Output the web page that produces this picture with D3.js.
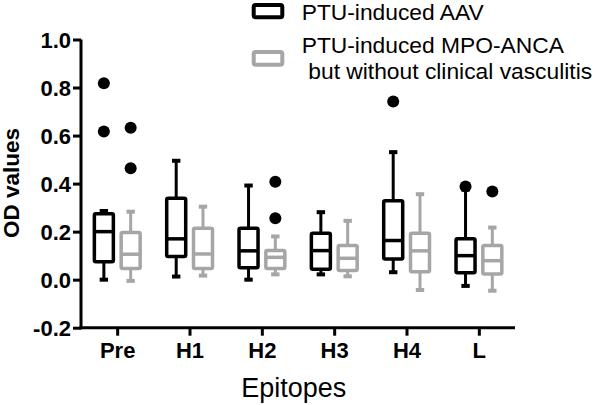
<!DOCTYPE html>
<html><head><meta charset="utf-8">
<script src="https://cdn.jsdelivr.net/npm/d3@7"></script>
<style>body{margin:0;background:#fff}svg{display:block}text{font-family:Arial,"Liberation Sans",sans-serif}</style>
</head><body><svg id="c" width="600" height="405"></svg>
<script>
const categories = ["Pre","H1","H2","H3","H4","L"];
const seriesNames = ["PTU-induced AAV","PTU-induced MPO-ANCA","but without clinical vasculitis"];
const yTicks = [-0.2,0.0,0.2,0.4,0.6,0.8,1.0];
// Series 1: PTU-induced AAV
const aavMin    = [0.000,0.013,0.000,0.022,0.031,-0.026];
const aavQ1     = [0.075,0.096,0.050,0.043,0.086,0.029];
const aavMedian = [0.200,0.170,0.120,0.121,0.163,0.100];
const aavQ3     = [0.274,0.339,0.214,0.193,0.329,0.170];
const aavMax    = [0.286,0.495,0.392,0.281,0.531,0.375];
const aavOutliers = [[0.818,0.617],[],[],[],[0.742],[0.388]];
// Series 2: PTU-induced MPO-ANCA without clinical vasculitis
const mpoMin    = [-0.005,0.017,0.022,0.014,-0.043,-0.046];
const mpoQ1     = [0.047,0.047,0.047,0.038,0.033,0.024];
const mpoMedian = [0.106,0.107,0.093,0.089,0.120,0.079];
const mpoQ3     = [0.196,0.214,0.121,0.142,0.193,0.142];
const mpoMax    = [0.283,0.304,0.180,0.245,0.356,0.217];
const mpoOutliers = [[0.633,0.464],[],[0.408,0.256],[],[],[0.367]];

const svg = d3.select("#c");
const x = d3.scalePoint().domain(categories).range([81,515]).padding(0.5);
const y = d3.scaleLinear().domain([-0.2,1.0]).range([327.7,39.5]);

const series = [
  {color:"#000", off:-13.3, min:aavMin,q1:aavQ1,med:aavMedian,q3:aavQ3,max:aavMax,out:aavOutliers},
  {color:"#a6a6a6", off:13.5, min:mpoMin,q1:mpoQ1,med:mpoMedian,q3:mpoQ3,max:mpoMax,out:mpoOutliers}
];

// axes
const fmt = d3.format(".1f");
const yAxis = svg.append("g").attr("transform","translate(81,0)")
  .call(d3.axisLeft(y).tickValues(yTicks).tickFormat(d=>fmt(d).replace("\u2212","-")).tickSize(8).tickSizeOuter(0).tickPadding(2));
const xAxis = svg.append("g").attr("transform","translate(0,327.7)")
  .call(d3.axisBottom(x).tickSize(8).tickSizeOuter(0).tickPadding(6));
[yAxis,xAxis].forEach(a=>{
  a.select(".domain").attr("stroke","#000").attr("stroke-width",3);
  a.selectAll(".tick line").attr("stroke","#000").attr("stroke-width",3);
  a.selectAll(".tick text").attr("fill","#000").attr("font-size",22).attr("font-weight","bold")
   .attr("font-family","Arial, 'Liberation Sans', sans-serif");
});
yAxis.select(".domain").attr("d","M0,39.5V329.2");
xAxis.select(".domain").attr("d","M79.5,0H515");
yAxis.selectAll(".tick text").attr("dy","0.36em");
xAxis.selectAll(".tick text").attr("dy","0").attr("y",30.8);

// boxes
const bw = 19;
series.forEach(s=>{
  const g = svg.append("g").attr("stroke",s.color).attr("fill","none");
  categories.forEach((c,i)=>{
    const cx = x(c)+s.off;
    g.append("line").attr("x1",cx).attr("x2",cx).attr("y1",y(s.q3[i])).attr("y2",y(s.max[i])).attr("stroke-width",3);
    g.append("line").attr("x1",cx).attr("x2",cx).attr("y1",y(s.q1[i])).attr("y2",y(s.min[i])).attr("stroke-width",3);
    [s.max[i],s.min[i]].forEach(v=>{
      g.append("line").attr("x1",cx-4.2).attr("x2",cx+4.2).attr("y1",y(v)).attr("y2",y(v)).attr("stroke-width",4);
    });
    g.append("rect").attr("x",cx-bw/2).attr("width",bw)
      .attr("y",y(s.q3[i])).attr("height",y(s.q1[i])-y(s.q3[i]))
      .attr("fill","#fff").attr("stroke-width",3.5).attr("stroke-linejoin","round").attr("rx",1.5);
    g.append("line").attr("x1",cx-bw/2).attr("x2",cx+bw/2).attr("y1",y(s.med[i])).attr("y2",y(s.med[i])).attr("stroke-width",3.5);
  });
});
// outliers (black dots)
series.forEach(s=>{
  categories.forEach((c,i)=>{
    s.out[i].forEach(v=>{
      svg.append("circle").attr("cx",x(c)+s.off).attr("cy",y(v)).attr("r",6).attr("fill","#000");
    });
  });
});

// axis titles
svg.append("text").attr("transform","translate(18.5,183) rotate(-90)").attr("text-anchor","middle")
  .attr("font-size",22.5).attr("font-weight","bold").text("OD values");
svg.append("text").attr("x",293.7).attr("y",396.7).attr("text-anchor","middle")
  .attr("font-size",27).text("Epitopes");

// legend
svg.append("rect").attr("x",253.7).attr("y",5).attr("width",28.6).attr("height",12.3)
  .attr("fill","none").attr("stroke","#000").attr("stroke-width",4).attr("rx",2);
svg.append("rect").attr("x",253.7).attr("y",52).attr("width",28.6).attr("height",12.7)
  .attr("fill","none").attr("stroke","#a6a6a6").attr("stroke-width",4).attr("rx",2);
svg.append("text").attr("x",301.7).attr("y",19.8).attr("font-size",22.8).text(seriesNames[0]);
svg.append("text").attr("x",301.7).attr("y",52.5).attr("font-size",22.8).text(seriesNames[1]);
svg.append("text").attr("x",308.3).attr("y",79).attr("font-size",22.8).text(seriesNames[2]);
</script></body></html>
